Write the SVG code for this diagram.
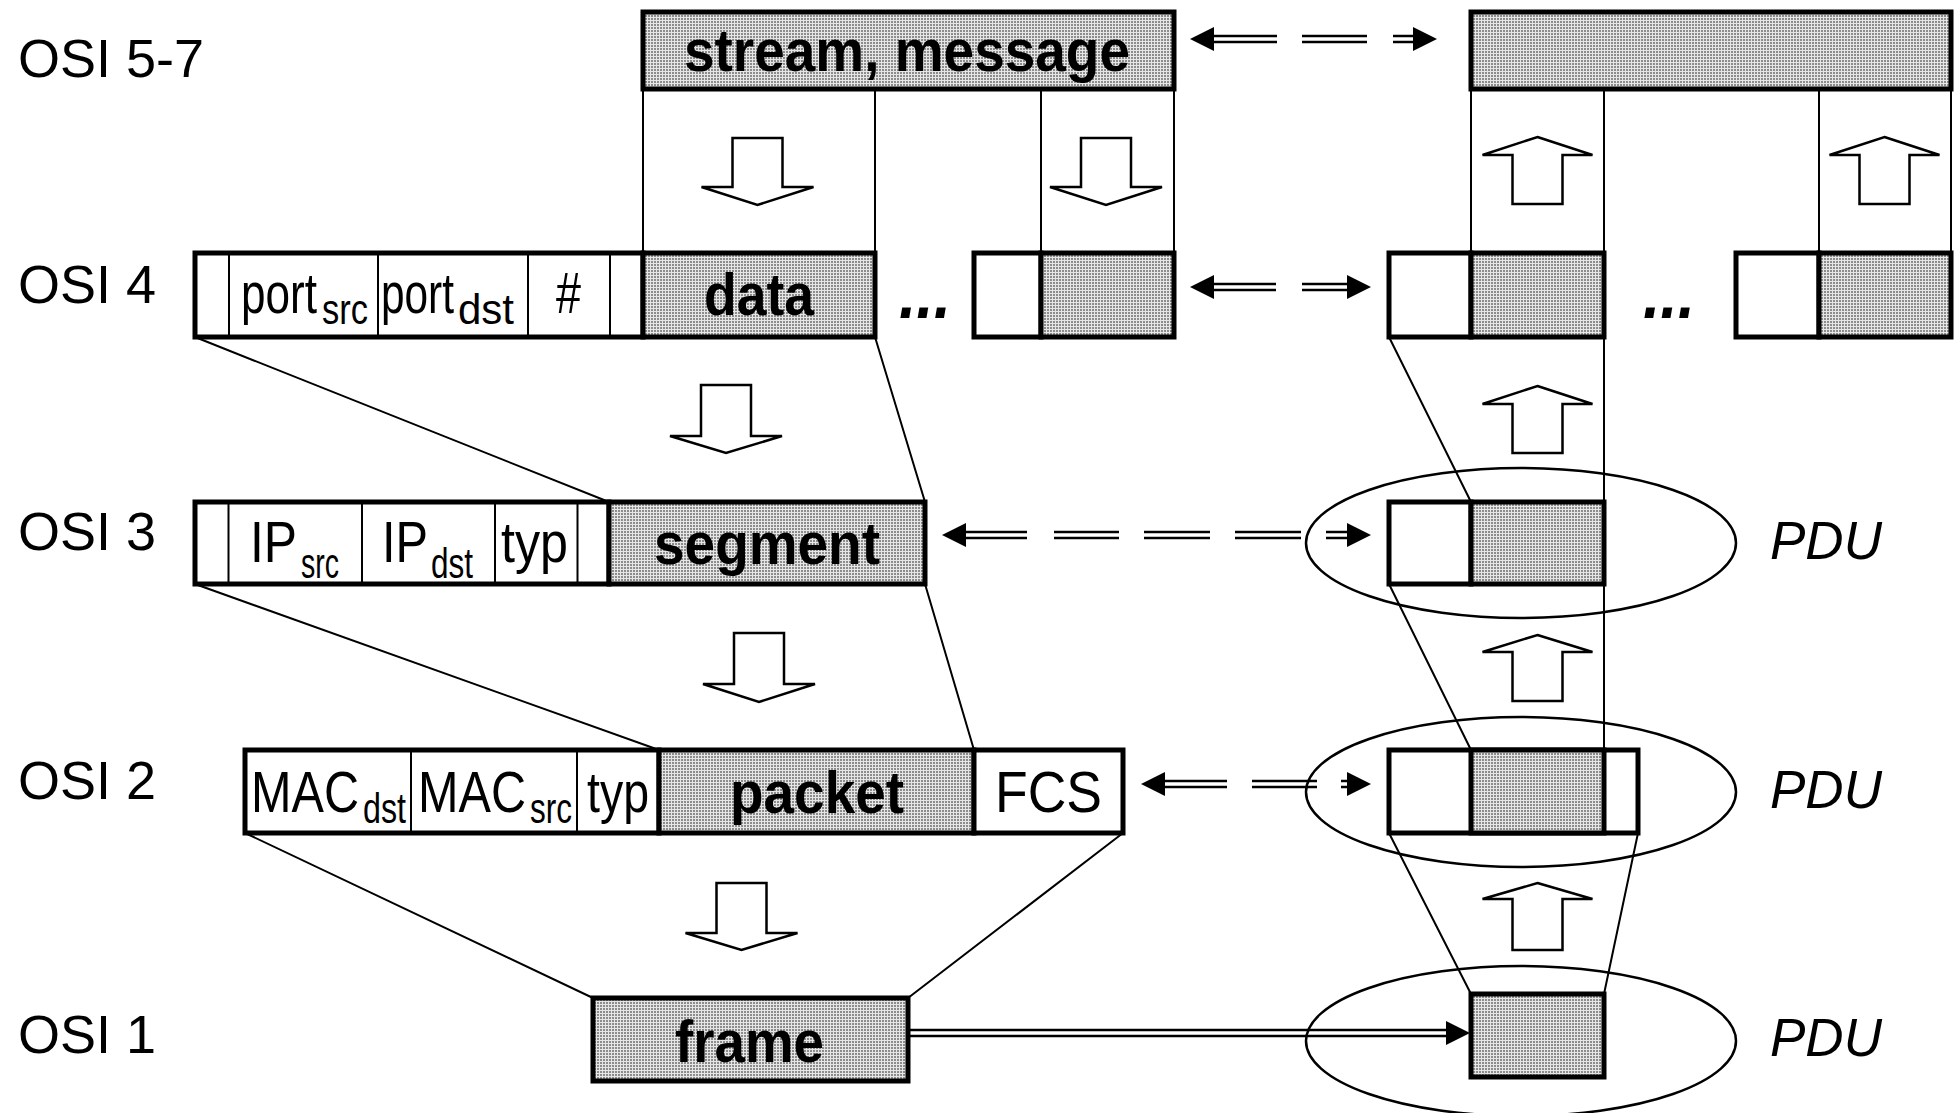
<svg xmlns="http://www.w3.org/2000/svg" width="1957" height="1113" viewBox="0 0 1957 1113">
<style>
  .box{stroke:#000;stroke-width:5;fill:#fff}
  .shd{stroke:#000;stroke-width:5;fill:url(#dots)}
  .div{stroke:#000;stroke-width:2}
  .ln{stroke:#000;stroke-width:2;fill:none}
  .blk{fill:#fff;stroke:#000;stroke-width:2.5;stroke-linejoin:miter}
  .dbl{stroke:#000;stroke-width:8.5;fill:none}
  .dbli{stroke:#fff;stroke-width:3.5;fill:none}
  .head{fill:#000}
  .ell{fill:none;stroke:#000;stroke-width:2.5}
  .lbl{font-family:"Liberation Sans",Arial,sans-serif;font-size:54px;fill:#000}
  .t{font-family:"Liberation Sans",Arial,sans-serif;font-size:57px;fill:#000}
  .sub{font-family:"Liberation Sans",Arial,sans-serif;font-size:42px;fill:#000}
  .b{font-family:"Liberation Sans",Arial,sans-serif;font-size:60px;font-weight:bold;fill:#000}
  .dots{font-family:"Liberation Sans",Arial,sans-serif;font-size:70px;font-weight:bold;font-style:italic;fill:#000}
  .pdu{font-family:"Liberation Sans",Arial,sans-serif;font-size:53px;font-style:italic;fill:#000}
</style>
<defs>
  <pattern id="dots" width="3" height="3" patternUnits="userSpaceOnUse">
    <rect width="3" height="3" fill="#e6e6e6"/>
    <rect width="2" height="2" fill="#8c8c8c"/>
  </pattern>
</defs>
<rect width="1957" height="1113" fill="#fff"/>

<g id="layer-labels">
  <text class="lbl" x="18" y="77">OSI 5-7</text>
  <text class="lbl" x="18" y="303">OSI 4</text>
  <text class="lbl" x="18" y="550">OSI 3</text>
  <text class="lbl" x="18" y="799">OSI 2</text>
  <text class="lbl" x="18" y="1053">OSI 1</text>
</g>

<g id="connectors">
  <path class="ln" d="M643 89V253M875 89V253M1041 89V253M1174 89V253"/>
  <path class="ln" d="M1471 89V253M1604 89V253M1819 89V253M1951 89V253"/>
  <path class="ln" d="M1604 337V750"/>
  <path class="ln" d="M195 337L609 502M875 337L925 502M195 584L659 750M925 584L974 750M245 833L593 998M1123 833L908 998"/>
  <path class="ln" d="M1389 337L1471 502M1389 584L1471 750M1389 833L1471 994M1638 833L1604 994"/>

  <g id="peer-57">
    <path class="dbl" d="M1212 39H1277M1302 39H1367M1393 39H1415"/>
    <path class="dbli" d="M1212 39H1277M1302 39H1367M1393 39H1415"/>
    <polygon class="head" points="1190,39 1214,27 1214,51"/>
    <polygon class="head" points="1437,39 1413,27 1413,51"/>
  </g>
  <g id="peer-4">
    <path class="dbl" d="M1212 287H1276M1302 287H1349"/>
    <path class="dbli" d="M1212 287H1276M1302 287H1349"/>
    <polygon class="head" points="1190,287 1214,275 1214,299"/>
    <polygon class="head" points="1371,287 1347,275 1347,299"/>
  </g>
  <g id="peer-3">
    <path class="dbl" d="M964 535H1027M1054 535H1119M1144 535H1210M1235 535H1301M1326 535H1349"/>
    <path class="dbli" d="M964 535H1027M1054 535H1119M1144 535H1210M1235 535H1301M1326 535H1349"/>
    <polygon class="head" points="942,535 966,523 966,547"/>
    <polygon class="head" points="1371,535 1347,523 1347,547"/>
  </g>
  <g id="peer-2">
    <path class="dbl" d="M1163 784H1227M1252 784H1317M1341 784H1349"/>
    <path class="dbli" d="M1163 784H1227M1252 784H1317M1341 784H1349"/>
    <polygon class="head" points="1141,784 1165,772 1165,796"/>
    <polygon class="head" points="1371,784 1347,772 1347,796"/>
  </g>
  <g id="phys-1">
    <path class="dbl" d="M908 1033H1448"/>
    <path class="dbli" d="M908 1033H1448"/>
    <polygon class="head" points="1470,1033 1446,1021 1446,1045"/>
  </g>

  <polygon class="blk" points="732.5,138 782.5,138 782.5,187 813.5,187 757.5,205 701.5,187 732.5,187"/>
  <polygon class="blk" points="1081,138 1131,138 1131,187 1162,187 1106,205 1050,187 1081,187"/>
  <polygon class="blk" points="701,385 751,385 751,436 782,436 726,453 670,436 701,436"/>
  <polygon class="blk" points="734,633 784,633 784,684 815,684 759,702 703,684 734,684"/>
  <polygon class="blk" points="716.5,883 766.5,883 766.5,933 797.5,933 741.5,950 685.5,933 716.5,933"/>

  <polygon class="blk" points="1537.5,137 1592.5,155 1562.5,155 1562.5,204 1512.5,204 1512.5,155 1482.5,155"/>
  <polygon class="blk" points="1884.5,137 1939.5,155 1909.5,155 1909.5,204 1859.5,204 1859.5,155 1829.5,155"/>
  <polygon class="blk" points="1537.5,386 1592.5,404 1562.5,404 1562.5,453 1512.5,453 1512.5,404 1482.5,404"/>
  <polygon class="blk" points="1537.5,635 1592.5,652 1562.5,652 1562.5,701 1512.5,701 1512.5,652 1482.5,652"/>
  <polygon class="blk" points="1537.5,883 1592.5,899 1562.5,899 1562.5,950 1512.5,950 1512.5,899 1482.5,899"/>
</g>

<g id="node-stream-tx">
  <rect class="shd" x="643" y="12" width="531" height="77"/>
  <text class="b" x="684" y="71" textLength="446" lengthAdjust="spacingAndGlyphs">stream, message</text>
</g>
<g id="node-stream-rx">
  <rect class="shd" x="1471" y="12" width="480" height="77"/>
</g>

<g id="node-tcp-tx">
  <rect class="box" x="195" y="253" width="448" height="84"/>
  <path class="div" d="M229 253V337M378 253V337M528 253V337M610 253V337"/>
  <text class="t" x="241" y="313" textLength="76" lengthAdjust="spacingAndGlyphs">port</text>
  <text class="sub" x="322" y="324" textLength="46" lengthAdjust="spacingAndGlyphs">src</text>
  <text class="t" x="381" y="313" textLength="73" lengthAdjust="spacingAndGlyphs">port</text>
  <text class="sub" x="458" y="324" textLength="56" lengthAdjust="spacingAndGlyphs">dst</text>
  <text class="t" x="556" y="313" textLength="25" lengthAdjust="spacingAndGlyphs">#</text>
  <rect class="shd" x="643" y="253" width="232" height="84"/>
  <text class="b" x="704" y="315" textLength="110" lengthAdjust="spacingAndGlyphs">data</text>
</g>
<text class="dots" x="899" y="318" textLength="52" lengthAdjust="spacingAndGlyphs">...</text>
<g id="node-tcp-tx-n">
  <rect class="box" x="974" y="253" width="67" height="84"/>
  <rect class="shd" x="1041" y="253" width="133" height="84"/>
</g>
<g id="node-tcp-rx-1">
  <rect class="box" x="1389" y="253" width="82" height="84"/>
  <rect class="shd" x="1471" y="253" width="133" height="84"/>
</g>
<text class="dots" x="1643" y="318" textLength="52" lengthAdjust="spacingAndGlyphs">...</text>
<g id="node-tcp-rx-n">
  <rect class="box" x="1736" y="253" width="83" height="84"/>
  <rect class="shd" x="1819" y="253" width="132" height="84"/>
</g>

<g id="node-ip-tx">
  <rect class="box" x="195" y="502" width="414" height="82"/>
  <path class="div" d="M228.5 502V584M362 502V584M495 502V584M577.5 502V584"/>
  <text class="t" x="250" y="562" textLength="47" lengthAdjust="spacingAndGlyphs">IP</text>
  <text class="sub" x="301" y="578" textLength="38" lengthAdjust="spacingAndGlyphs">src</text>
  <text class="t" x="382" y="562" textLength="46" lengthAdjust="spacingAndGlyphs">IP</text>
  <text class="sub" x="431" y="578" textLength="42" lengthAdjust="spacingAndGlyphs">dst</text>
  <text class="t" x="501" y="562" textLength="67" lengthAdjust="spacingAndGlyphs">typ</text>
  <rect class="shd" x="609" y="502" width="316" height="82"/>
  <text class="b" x="654" y="564" textLength="226" lengthAdjust="spacingAndGlyphs">segment</text>
</g>
<g id="node-ip-rx">
  <rect class="box" x="1389" y="502" width="82" height="82"/>
  <rect class="shd" x="1471" y="502" width="133" height="82"/>
  <ellipse class="ell" cx="1521" cy="543" rx="215" ry="75"/>
  <text class="pdu" x="1770" y="559">PDU</text>
</g>

<g id="node-mac-tx">
  <rect class="box" x="245" y="750" width="414" height="83"/>
  <path class="div" d="M411 750V833M577 750V833"/>
  <text class="t" x="251" y="812" textLength="108" lengthAdjust="spacingAndGlyphs">MAC</text>
  <text class="sub" x="363" y="823" textLength="43" lengthAdjust="spacingAndGlyphs">dst</text>
  <text class="t" x="418" y="812" textLength="108" lengthAdjust="spacingAndGlyphs">MAC</text>
  <text class="sub" x="530" y="823" textLength="42" lengthAdjust="spacingAndGlyphs">src</text>
  <text class="t" x="587" y="812" textLength="62" lengthAdjust="spacingAndGlyphs">typ</text>
  <rect class="shd" x="659" y="750" width="315" height="83"/>
  <text class="b" x="730" y="813" textLength="174" lengthAdjust="spacingAndGlyphs">packet</text>
  <rect class="box" x="974" y="750" width="149" height="83"/>
  <text class="t" x="995" y="812" textLength="107" lengthAdjust="spacingAndGlyphs">FCS</text>
</g>
<g id="node-mac-rx">
  <rect class="box" x="1389" y="750" width="249" height="83"/>
  <rect class="shd" x="1471" y="750" width="133" height="83"/>
  <ellipse class="ell" cx="1521" cy="792" rx="215" ry="75"/>
  <text class="pdu" x="1770" y="808">PDU</text>
</g>

<g id="node-phy-tx">
  <rect class="shd" x="593" y="998" width="315" height="83"/>
  <text class="b" x="675" y="1062" textLength="149" lengthAdjust="spacingAndGlyphs">frame</text>
</g>
<g id="node-phy-rx">
  <rect class="shd" x="1471" y="994" width="133" height="83"/>
  <ellipse class="ell" cx="1521" cy="1041" rx="215" ry="75"/>
  <text class="pdu" x="1770" y="1056">PDU</text>
</g>
</svg>
